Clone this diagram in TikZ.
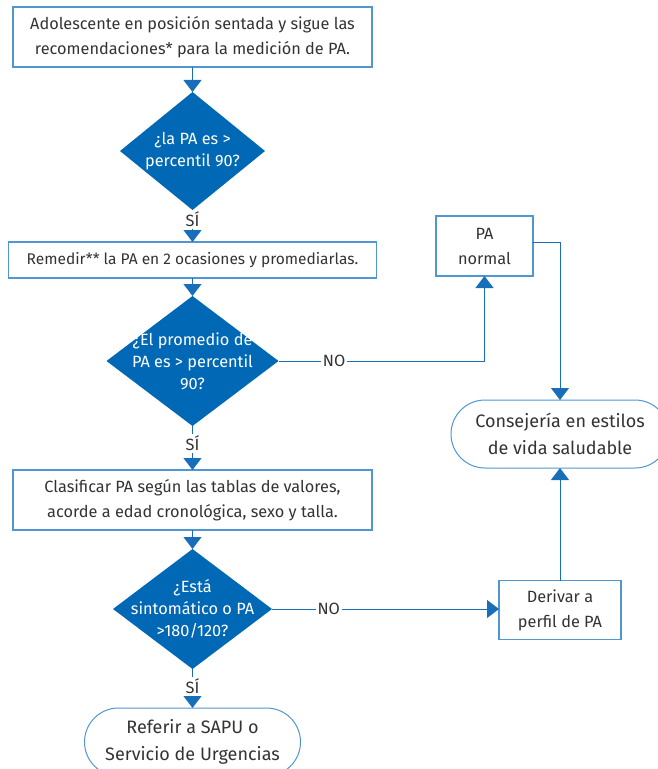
\documentclass[tikz,border=0pt]{standalone}
\usepackage{fontspec}
\setmainfont{Fira Sans}
\usetikzlibrary{positioning}
\usetikzlibrary{arrows.meta,shapes.geometric,shapes.misc}
\definecolor{dblue}{RGB}{0,104,180}
\definecolor{lblue}{RGB}{80,150,210}
\definecolor{lineblue}{RGB}{25,110,185}
\definecolor{txt}{RGB}{51,51,51}

\begin{document}
\begin{tikzpicture}[x=1pt,y=-1pt,node distance=25pt,
	every node/.style={inner sep=1,outer sep=0,font=\fontsize{16.3}{25}\selectfont,text=txt,align=center},
	box/.style={draw=lblue,line width=1.2pt,rectangle},
	decision/.style={diamond,fill=dblue,inner sep=0pt},
	dlabel/.style={text=white,align=center,font=\fontsize{16.3}{22}\selectfont},
	term/.style={draw=lblue,line width=1pt,rounded rectangle,font=\fontsize{18}{27}\selectfont},
	tag/.style={fill=white,inner sep=2pt},
	flow/.style={->,color=lineblue,line width=1pt},
	>={Triangle[width=18pt,length=12pt]}]
	\useasboundingbox (0,0) rectangle (657,769);
	\node (b1) [box,minimum width=359pt,minimum height=60pt] at (192.5,37) {Adolescente en posición sentada y sigue las\\recomendaciones* para la medición de PA.};
	\node (d1) [decision,minimum width=145pt,minimum height=118pt,below=25pt of b1,
		label={[dlabel]center:{¿la PA es >\\percentil 90?}}] {};
	\node (b2) [box,minimum width=368pt,minimum height=36pt,below=32pt of d1,font=\fontsize{15.5}{25}\selectfont] {Remedir** la PA en 2 ocasiones y promediarlas.};
	\node (d2) [decision,minimum width=172pt,minimum height=130pt,below=18pt of b2,
		label={[dlabel]center:{¿El promedio de\\PA es > percentil\\90?}}] {};
	\node (b3) [box,minimum width=359pt,minimum height=60pt,below=44pt of d2] {Clasificar PA según las tablas de valores,\\acorde a edad cronológica, sexo y talla.};
	\node (d3) [decision,minimum width=159pt,minimum height=120pt,below=19pt of b3,
		label={[dlabel]center:{¿Está\\sintomático o PA\\>180/120?}}] {};
	\node (R) [term,minimum width=218pt,minimum height=68pt,below=39pt of d3] {Referir a SAPU o\\Servicio de Urgencias};
	\node (N) [box,minimum width=97pt,minimum height=60pt] at (484.5,246) {PA\\normal};
	\node (C) [term,minimum width=220pt,minimum height=68pt] at (560,434) {Consejería en estilos\\de vida saludable};
	\node (D) [box,minimum width=122pt,minimum height=59pt] at (560,610) {Derivar a\\perfil de PA};
	\path[flow]
		(b1) edge (d1)
		(d1) edge node[tag,pos=0.3] {SÍ} (b2)
		(b2) edge (d2)
		(d2) edge node[tag,pos=0.4] {SÍ} (b3)
		(b3) edge (d3)
		(d3) edge node[tag,pos=0.44] {SÍ} (R)
		(d3.east) edge node[tag,pos=0.25] {NO} (d3.east -| D.west)
		(D) edge (C);
	\draw[flow] (d2.east) -- node[tag,pos=0.27] {NO} (d2.east -| N.south) -- (N.south);
	\draw[flow] ([yshift=4pt]N.east) -| (C.north);
\end{tikzpicture}
\end{document}
